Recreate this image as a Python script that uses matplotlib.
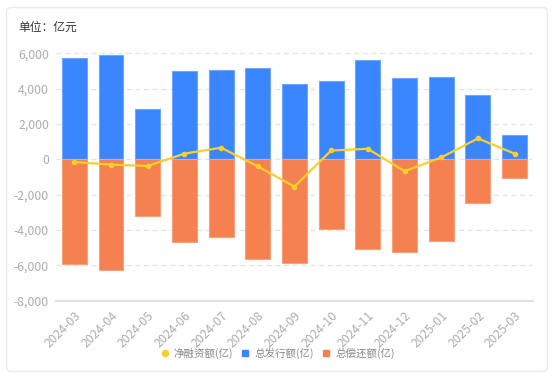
import matplotlib
matplotlib.use("Agg")
import matplotlib.pyplot as plt
import numpy as np
from matplotlib.patches import FancyBboxPatch
from matplotlib.lines import Line2D
from matplotlib.ticker import FuncFormatter

plt.rcParams["font.family"] = ["Noto Sans CJK SC", "DejaVu Sans"]

months = ["2024-03", "2024-04", "2024-05", "2024-06", "2024-07", "2024-08",
          "2024-09", "2024-10", "2024-11", "2024-12", "2025-01", "2025-02", "2025-03"]
issue = [5760, 5930, 2830, 4990, 5060, 5190, 4290, 4410, 5650, 4580, 4690, 3640, 1380]
repay = [-5940, -6230, -3220, -4670, -4400, -5610, -5850, -3920, -5060, -5250, -4590, -2470, -1060]
net = [-150, -295, -370, 325, 665, -390, -1540, 505, 600, -670, 110, 1190, 325]

blue = "#3A86FF"
orange = "#F58050"
yellow = "#F9CF2C"
grey = "#ADADAD"

fig = plt.figure(figsize=(5.54, 3.76), dpi=100)

# card background, kept behind the axes
card = FancyBboxPatch((0.012, 0.012), 0.976, 0.968, boxstyle="round,pad=0,rounding_size=0.01",
                      transform=fig.transFigure, facecolor="white", edgecolor="#EBEBEB",
                      linewidth=1, zorder=-10)
fig.patches.append(card)

ax = fig.add_axes([0.101, 0.2, 0.861, 0.658])
ax.set_zorder(1)
ax.set_facecolor("none")
x = np.arange(len(months))
ax.bar(x, issue, width=0.68, color=blue, edgecolor="#6FA6FF", linewidth=0.8, zorder=2)
ax.bar(x, repay, width=0.68, color=orange, edgecolor="#F8A27C", linewidth=0.8, zorder=2)
ax.plot(x, net, color=yellow, linewidth=1.6, marker="o", markersize=3, zorder=3)

ax.set_xlim(-0.5, len(months) - 0.5)
ax.set_ylim(-8000, 6000)
ax.set_yticks(np.arange(-8000, 6001, 2000))
ax.yaxis.set_major_formatter(FuncFormatter(lambda v, p: f"{int(v):,}"))
ax.grid(axis="y", color="#E3E3E3", linestyle=(0, (4, 3)), linewidth=0.9, zorder=0)
ax.set_axisbelow(True)
for s in ["top", "right", "left"]:
    ax.spines[s].set_visible(False)
ax.spines["bottom"].set_color("#E3E3E3")
ax.spines["bottom"].set_linewidth(1.5)
ax.tick_params(axis="both", length=0, colors=grey, labelsize=8.8)
ax.tick_params(axis="y", pad=5)
ax.set_xticks(x)
ax.set_xticklabels(months, rotation=45, ha="right", rotation_mode="anchor")
ax.tick_params(axis="x", pad=6)

fig.text(0.033, 0.928, "单位：亿元", fontsize=8.5, color="#333333", va="center", ha="left")

handles = [
    Line2D([], [], marker="o", linestyle="none", color=yellow, markersize=4.5),
    Line2D([], [], marker="s", linestyle="none", color=blue, markersize=4.3),
    Line2D([], [], marker="s", linestyle="none", color=orange, markersize=4.3),
]
labels = ["净融资额(亿)", "总发行额(亿)", "总偿还额(亿)"]
leg = fig.legend(handles, labels, loc="center", bbox_to_anchor=(0.501, 0.061), ncol=3,
                 frameon=False, fontsize=7.6, handletextpad=0.46, columnspacing=0.75,
                 handlelength=0.8)
for t in leg.get_texts():
    t.set_color("#888888")

fig.savefig("out.png", dpi=100)
